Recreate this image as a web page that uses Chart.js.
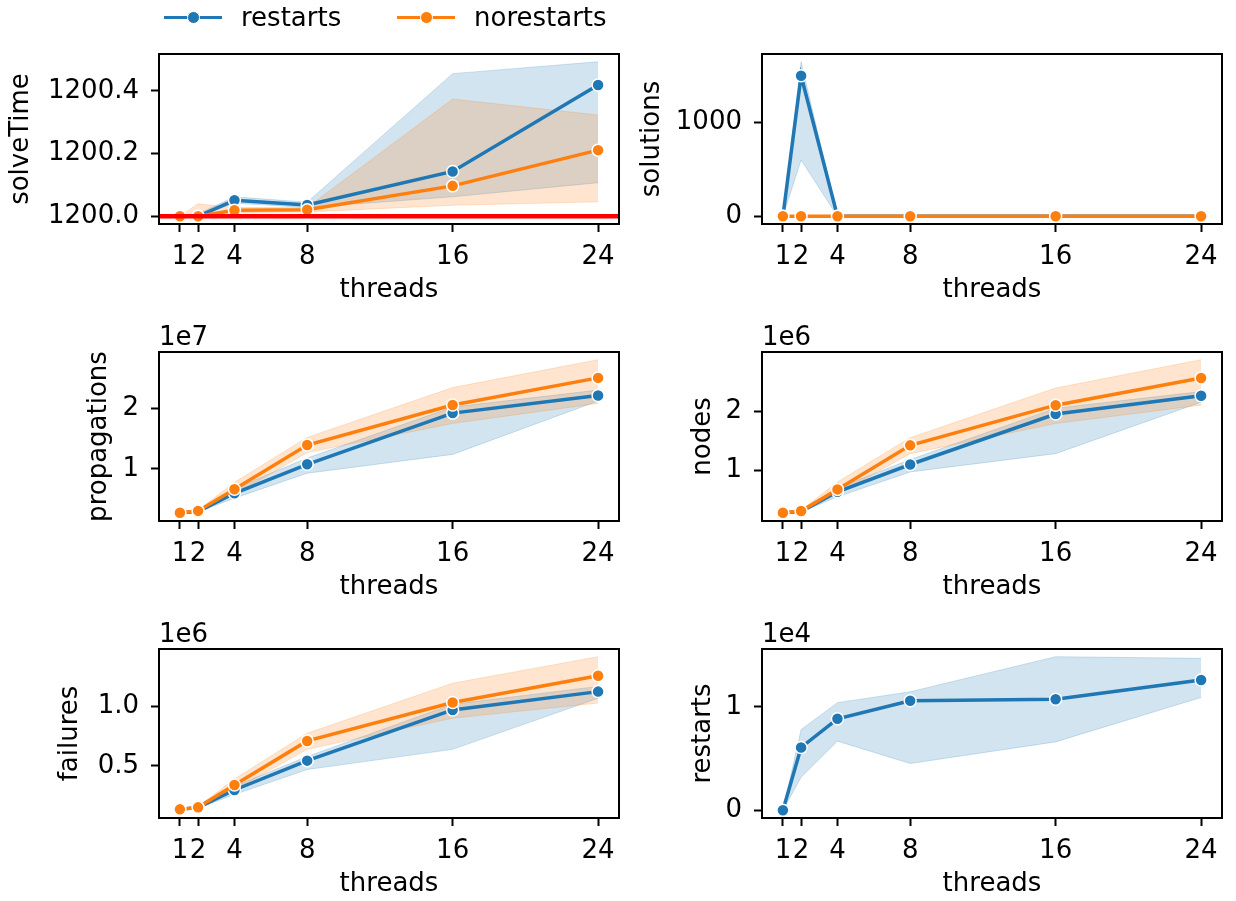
<!DOCTYPE html>
<html>
<head>
<meta charset="utf-8">
<title>threads</title>
<script src="https://cdn.jsdelivr.net/npm/chart.js@4.4.1/dist/chart.umd.min.js"></script>
<style>
  html, body { margin: 0; padding: 0; background: #fff; overflow: hidden; }
  body { position: relative; width: 1236px; height: 901px; font-family: "DejaVu Sans", sans-serif; }
  canvas { position: absolute; }
  .legend-item { position: absolute; top: 0; height: 34px; display: flex; align-items: center; font-size: 26px; color: #000; white-space: nowrap; }
  .key { position: relative; display: inline-block; width: 58px; height: 34px; margin-right: 19px; }
  .key i { position: absolute; display: block; }
  .key .bar { left: 0; right: 0; top: 15.5px; height: 3px; }
  .key .dot { left: 22.5px; top: 10.5px; width: 13px; height: 13px; border-radius: 50%; box-sizing: border-box; border: 1.5px solid #fff; }
</style>
</head>
<body>
<script>
// x positions shared by every panel
const threads = [1, 2, 4, 8, 16, 24];

// solveTime
const solveTimeRestarts     = [1200.0, 1200.0, 1200.051, 1200.036, 1200.143, 1200.419];
const solveTimeRestartsLo   = [1200.0, 1200.0, 1200.042, 1200.028, 1200.062, 1200.107];
const solveTimeRestartsHi   = [1200.0, 1200.008, 1200.062, 1200.045, 1200.455, 1200.493];
const solveTimeNorestarts   = [1200.0, 1200.0, 1200.019, 1200.021, 1200.097, 1200.211];
const solveTimeNorestartsLo = [1200.0, 1200.0, 1200.012, 1200.014, 1200.035, 1200.046];
const solveTimeNorestartsHi = [1200.0, 1200.040, 1200.028, 1200.028, 1200.374, 1200.323];
const timeLimit = 1200;

// solutions
const solutionsRestarts     = [0, 1500, 0, 0, 0, 0];
const solutionsRestartsLo   = [0, 600, 0, 0, 0, 0];
const solutionsRestartsHi   = [0, 1650, 0, 0, 0, 0];
const solutionsNorestarts   = [0, 0, 0, 0, 0, 0];
const solutionsNorestartsLo = [0, 0, 0, 0, 0, 0];
const solutionsNorestartsHi = [0, 0, 0, 0, 0, 0];

// propagations
const propagationsRestarts     = [0.28e7, 0.30e7, 0.60e7, 1.077e7, 1.92e7, 2.21e7];
const propagationsRestartsLo   = [0.27e7, 0.29e7, 0.52e7, 0.93e7, 1.24e7, 2.12e7];
const propagationsRestartsHi   = [0.29e7, 0.31e7, 0.68e7, 1.18e7, 2.02e7, 2.30e7];
const propagationsNorestarts   = [0.28e7, 0.31e7, 0.665e7, 1.395e7, 2.054e7, 2.50e7];
const propagationsNorestartsLo = [0.27e7, 0.30e7, 0.58e7, 1.27e7, 1.75e7, 2.08e7];
const propagationsNorestartsHi = [0.29e7, 0.32e7, 0.78e7, 1.52e7, 2.34e7, 2.80e7];

// nodes
const nodesRestarts     = [0.28e6, 0.30e6, 0.635e6, 1.096e6, 1.95e6, 2.26e6];
const nodesRestartsLo   = [0.27e6, 0.29e6, 0.55e6, 0.97e6, 1.28e6, 2.15e6];
const nodesRestartsHi   = [0.29e6, 0.31e6, 0.70e6, 1.18e6, 2.05e6, 2.33e6];
const nodesNorestarts   = [0.28e6, 0.31e6, 0.675e6, 1.42e6, 2.10e6, 2.56e6];
const nodesNorestartsLo = [0.27e6, 0.30e6, 0.60e6, 1.28e6, 1.79e6, 2.10e6];
const nodesNorestartsHi = [0.29e6, 0.32e6, 0.80e6, 1.55e6, 2.39e6, 2.87e6];

// failures
const failuresRestarts     = [0.135e6, 0.150e6, 0.298e6, 0.545e6, 0.972e6, 1.126e6];
const failuresRestartsLo   = [0.130e6, 0.145e6, 0.26e6, 0.47e6, 0.64e6, 1.07e6];
const failuresRestartsHi   = [0.140e6, 0.155e6, 0.33e6, 0.58e6, 1.02e6, 1.17e6];
const failuresNorestarts   = [0.135e6, 0.152e6, 0.34e6, 0.711e6, 1.034e6, 1.259e6];
const failuresNorestartsLo = [0.127e6, 0.147e6, 0.30e6, 0.64e6, 0.902e6, 1.03e6];
const failuresNorestartsHi = [0.143e6, 0.157e6, 0.39e6, 0.775e6, 1.197e6, 1.42e6];

// restarts (only the restarts configuration restarts)
const restartsRestarts   = [0, 0.607e4, 0.884e4, 1.058e4, 1.072e4, 1.258e4];
const restartsRestartsLo = [0, 0.32e4, 0.668e4, 0.452e4, 0.661e4, 1.09e4];
const restartsRestartsHi = [0, 0.78e4, 1.04e4, 1.145e4, 1.484e4, 1.468e4];

const BLUE = '#1f77b4';
const ORANGE = '#ff7f0e';
const BLUE_BAND = 'rgba(31, 119, 180, 0.2)';
const ORANGE_BAND = 'rgba(255, 127, 14, 0.2)';

const seriesInfo = [
  { name: 'restarts', color: BLUE, band: BLUE_BAND },
  { name: 'norestarts', color: ORANGE, band: ORANGE_BAND }
];

// layout of the 3x2 grid (plot area corners)
const COL_LEFT = [159, 762];
const ROW_TOP = [54, 352, 649];
const ROW_H = [170, 169, 169];
const AREA_W = 460;
const Y_W = 159, PAD_T = 40, PAD_R = 12, X_H = 82;
const X_MIN = -0.15, X_MAX = 25.15;
const FONT_SIZE = 26;

Chart.defaults.font.family = '"DejaVu Sans", sans-serif';
Chart.defaults.font.size = FONT_SIZE;
Chart.defaults.color = '#000';

// box around the plot area plus the "1eN" multiplier text
const panelFrame = {
  id: 'panelFrame',
  afterDatasetsDraw(chart, args, opts) {
    const { ctx, chartArea: a } = chart;
    ctx.save();
    ctx.strokeStyle = '#000';
    ctx.lineWidth = 2;
    ctx.strokeRect(a.left, a.top, a.right - a.left, a.bottom - a.top);
    if (opts.offsetText) {
      ctx.fillStyle = '#000';
      ctx.font = FONT_SIZE + 'px "DejaVu Sans"';
      ctx.textAlign = 'left';
      ctx.textBaseline = 'alphabetic';
      ctx.fillText(opts.offsetText, a.left, a.top - 7);
    }
    ctx.restore();
  }
};

function toPoints(values) {
  return threads.map((t, i) => ({ x: t, y: values[i] }));
}

// matplotlib-like autoscale: data range plus 5% each side
function limits(arrays) {
  const all = arrays.flat();
  const lo = Math.min(...all), hi = Math.max(...all);
  const pad = (hi - lo) * 0.05;
  return [lo - pad, hi + pad];
}

function makePanel(p) {
  const canvas = document.createElement('canvas');
  const w = Y_W + AREA_W + PAD_R;
  const h = PAD_T + ROW_H[p.row] + X_H;
  canvas.width = w;
  canvas.height = h;
  canvas.style.left = (COL_LEFT[p.col] - Y_W) + 'px';
  canvas.style.top = (ROW_TOP[p.row] - PAD_T) + 'px';
  canvas.style.width = w + 'px';
  canvas.style.height = h + 'px';
  document.body.appendChild(canvas);

  const lines = [];
  const bands = [];
  p.series.forEach((s, k) => {
    const info = seriesInfo[k];
    lines.push({
      label: info.name,
      data: toPoints(s.mean),
      borderColor: info.color,
      backgroundColor: info.color,
      borderWidth: 3.5,
      pointRadius: 6,
      pointBorderColor: '#fff',
      pointBorderWidth: 1.5,
      fill: false,
      order: p.series.length - 1 - k
    });
    // confidence band: lower edge, then upper edge filled down to it
    bands.push({
      data: toPoints(s.lo),
      borderColor: info.band,
      borderWidth: 1,
      pointRadius: 0,
      fill: false,
      order: 10 - k
    });
    bands.push({
      data: toPoints(s.hi),
      borderColor: info.band,
      backgroundColor: info.band,
      borderWidth: 1,
      pointRadius: 0,
      fill: '-1',
      order: 10 - k
    });
  });

  const datasets = lines.concat(bands);
  if (p.hline !== undefined) {
    datasets.push({
      data: [{ x: X_MIN, y: p.hline }, { x: X_MAX, y: p.hline }],
      borderColor: '#ff0000',
      borderWidth: 4.5,
      pointRadius: 0,
      fill: false,
      clip: 0,
      order: -1
    });
  }

  const [yMin, yMax] = limits(p.series.flatMap(s => [s.mean, s.lo, s.hi]));

  return new Chart(canvas, {
    type: 'line',
    data: { datasets },
    plugins: [panelFrame],
    options: {
      responsive: false,
      animation: false,
      events: [],
      layout: { padding: { top: PAD_T, right: PAD_R, left: 0, bottom: 0 } },
      plugins: {
        legend: { display: false },
        tooltip: { enabled: false },
        panelFrame: { offsetText: p.offsetText }
      },
      scales: {
        x: {
          type: 'linear',
          min: X_MIN,
          max: X_MAX,
          afterBuildTicks: axis => { axis.ticks = threads.map(v => ({ value: v })); },
          afterFit: axis => { axis.height = X_H; },
          ticks: { autoSkip: false, maxRotation: 0, minRotation: 0, padding: 10, callback: v => String(v) },
          grid: { drawOnChartArea: false, drawTicks: true, tickLength: 8, tickWidth: 2, tickColor: '#000', color: '#000' },
          border: { display: false },
          title: { display: true, text: 'threads', font: { size: FONT_SIZE, lineHeight: 1 }, padding: { top: 0, bottom: 3 } }
        },
        y: {
          type: 'linear',
          min: yMin,
          max: yMax,
          afterBuildTicks: axis => { axis.ticks = p.ticks.map(v => ({ value: v })); },
          afterFit: axis => { axis.width = Y_W; },
          ticks: { padding: 12, callback: p.fmt },
          grid: { drawOnChartArea: false, drawTicks: true, tickLength: 8, tickWidth: 2, tickColor: '#000', color: '#000' },
          border: { display: false },
          title: { display: true, text: p.label, font: { size: FONT_SIZE, lineHeight: 1 }, padding: { top: p.labelPad, bottom: 0 } }
        }
      }
    }
  });
}

const panels = [
  {
    col: 0, row: 0, label: 'solveTime', labelPad: 8,
    ticks: [1200.0, 1200.2, 1200.4], fmt: v => v.toFixed(1), hline: timeLimit,
    series: [
      { mean: solveTimeRestarts, lo: solveTimeRestartsLo, hi: solveTimeRestartsHi },
      { mean: solveTimeNorestarts, lo: solveTimeNorestartsLo, hi: solveTimeNorestartsHi }
    ]
  },
  {
    col: 1, row: 0, label: 'solutions', labelPad: 36.5,
    ticks: [0, 1000], fmt: v => String(v),
    series: [
      { mean: solutionsRestarts, lo: solutionsRestartsLo, hi: solutionsRestartsHi },
      { mean: solutionsNorestarts, lo: solutionsNorestartsLo, hi: solutionsNorestartsHi }
    ]
  },
  {
    col: 0, row: 1, label: 'propagations', labelPad: 86.5, offsetText: '1e7',
    ticks: [1e7, 2e7], fmt: v => (v / 1e7).toFixed(0),
    series: [
      { mean: propagationsRestarts, lo: propagationsRestartsLo, hi: propagationsRestartsHi },
      { mean: propagationsNorestarts, lo: propagationsNorestartsLo, hi: propagationsNorestartsHi }
    ]
  },
  {
    col: 1, row: 1, label: 'nodes', labelPad: 87, offsetText: '1e6',
    ticks: [1e6, 2e6], fmt: v => (v / 1e6).toFixed(0),
    series: [
      { mean: nodesRestarts, lo: nodesRestartsLo, hi: nodesRestartsHi },
      { mean: nodesNorestarts, lo: nodesNorestartsLo, hi: nodesNorestartsHi }
    ]
  },
  {
    col: 0, row: 2, label: 'failures', labelPad: 57, offsetText: '1e6',
    ticks: [0.5e6, 1e6], fmt: v => (v / 1e6).toFixed(1),
    series: [
      { mean: failuresRestarts, lo: failuresRestartsLo, hi: failuresRestartsHi },
      { mean: failuresNorestarts, lo: failuresNorestartsLo, hi: failuresNorestartsHi }
    ]
  },
  {
    col: 1, row: 2, label: 'restarts', labelPad: 87, offsetText: '1e4',
    ticks: [0, 1e4], fmt: v => (v / 1e4).toFixed(0),
    series: [
      { mean: restartsRestarts, lo: restartsRestartsLo, hi: restartsRestartsHi }
    ]
  }
];

panels.forEach(makePanel);

// shared legend above the grid
const legendLeft = [164, 397];
seriesInfo.forEach((s, k) => {
  const item = document.createElement('div');
  item.className = 'legend-item';
  item.style.left = legendLeft[k] + 'px';
  const key = document.createElement('span');
  key.className = 'key';
  key.innerHTML = '<i class="bar"></i><i class="dot"></i>';
  key.querySelector('.bar').style.background = s.color;
  key.querySelector('.dot').style.background = s.color;
  item.appendChild(key);
  item.appendChild(document.createTextNode(s.name));
  document.body.appendChild(item);
});
</script>
</body>
</html>
